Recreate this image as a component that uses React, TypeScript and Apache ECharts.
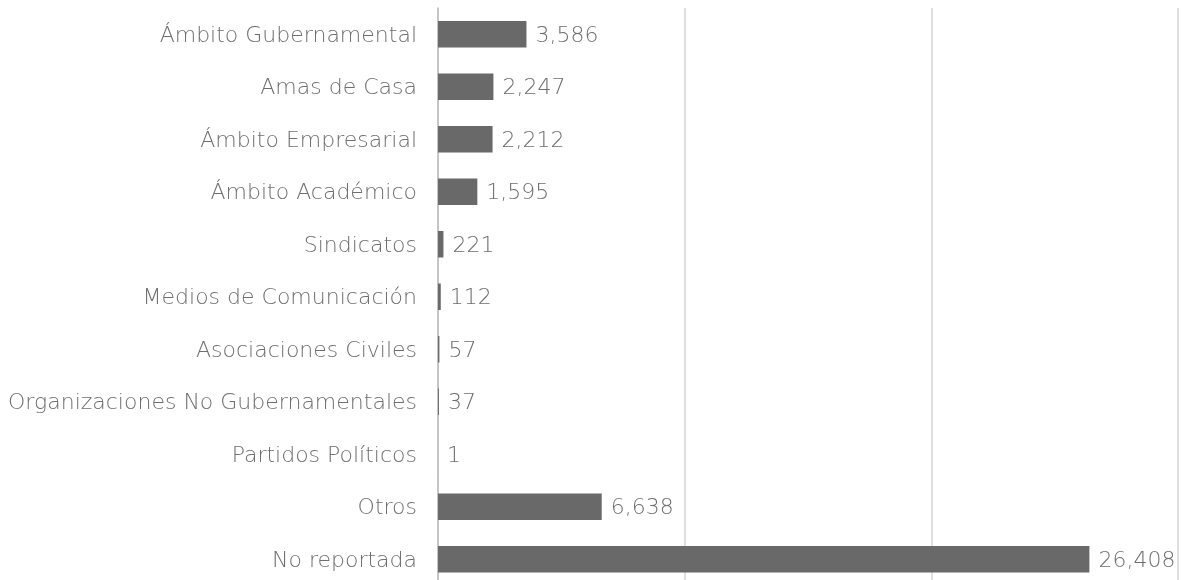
import React, { useEffect, useRef } from "react";
import * as echarts from "echarts";

const categories = [
  "Ámbito Gubernamental",
  "Amas de Casa",
  "Ámbito Empresarial",
  "Ámbito Académico",
  "Sindicatos",
  "Medios de Comunicación",
  "Asociaciones Civiles",
  "Organizaciones No Gubernamentales",
  "Partidos Políticos",
  "Otros",
  "No reportada",
];
const values = [3586, 2247, 2212, 1595, 221, 112, 57, 37, 1, 6638, 26408];

const FONT = "'DejaVu Sans', sans-serif";
const TEXT = "#6e6e6e";

export default function App() {
  const ref = useRef<HTMLDivElement>(null);
  useEffect(() => {
    if (!ref.current) return;
    const chart = echarts.init(ref.current, undefined, { renderer: "svg" });
    chart.setOption({
      animation: false,
      grid: { left: 438, right: 6, top: 8, bottom: 14.5, containLabel: false },
      xAxis: {
        type: "value",
        min: 0,
        max: 30000,
        interval: 10000,
        axisLabel: { show: false },
        axisLine: { show: false },
        axisTick: { show: false },
        splitLine: { show: true, lineStyle: { color: "#d4d4d4", width: 1.5 } },
      },
      yAxis: {
        type: "category",
        inverse: true,
        data: categories,
        axisLine: { show: true, lineStyle: { color: "#bdbdbd", width: 1.5 } },
        axisTick: { show: false },
        axisLabel: {
          margin: 21,
          color: TEXT,
          fontFamily: FONT,
          fontSize: 22,
          fontWeight: 200,
        },
      },
      series: [
        {
          type: "bar",
          data: values,
          barWidth: 26.5,
          itemStyle: { color: "#696969" },
          label: {
            show: true,
            position: "right",
            distance: 9,
            color: TEXT,
            fontFamily: FONT,
            fontSize: 22,
            fontWeight: 200,
            formatter: (p: any) => Number(p.value).toLocaleString("en-US"),
          },
        },
      ],
    });
    return () => chart.dispose();
  }, []);
  return (
    <div
      ref={ref}
      style={{ position: "fixed", left: 0, top: 0, width: 1184, height: 600 }}
    />
  );
}
